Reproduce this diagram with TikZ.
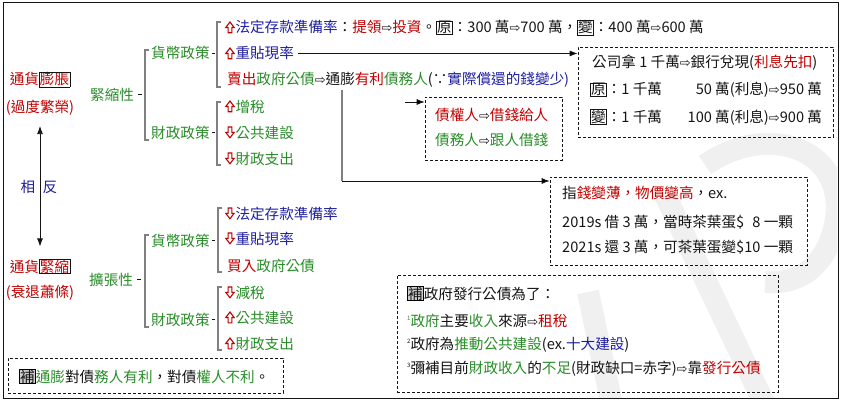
\documentclass[tikz,border=0pt]{standalone}
\usepackage{fontspec}
\setmainfont{Noto Sans CJK TC}
\newfontfamily\symf{DejaVu Sans}
\usetikzlibrary{arrows.meta,fit}
\definecolor{cR}{RGB}{192,0,0}
\definecolor{cG}{RGB}{40,140,40}
\definecolor{cB}{RGB}{30,30,160}
\definecolor{cK}{RGB}{20,20,20}
\definecolor{cW}{RGB}{240,240,240}
\newcommand\cred[1]{\textcolor{cR}{#1}}
\newcommand\cgrn[1]{\textcolor{cG}{#1}}
\newcommand\cblu[1]{\textcolor{cB}{#1}}
\newcommand\aU{\tikz[baseline=0pt,x=1pt,y=1pt]\draw[draw=cR,fill=white,line width=1.1pt,line join=miter] (0.8,5.5)--(5,11)--(9.2,5.5)--(6.9,5.5)--(6.9,0.2)--(3.1,0.2)--(3.1,5.5)--cycle;\hspace{0.8pt}}
\newcommand\aD{\tikz[baseline=0pt,x=1pt,y=1pt]\draw[draw=cR,fill=white,line width=1.1pt,line join=miter] (0.8,5.7)--(5,0.2)--(9.2,5.7)--(6.9,5.7)--(6.9,11)--(3.1,11)--(3.1,5.7)--cycle;\hspace{0.8pt}}
\newcommand\aR{{\symf\fontsize{13}{13}\selectfont\textcolor{cK}{⇨}}}
\newcommand\bxc[1]{{\setlength\fboxsep{0.3pt}\setlength\fboxrule{0.7pt}\fbox{#1}}}
\newcommand\gbx[1]{{\setlength\fboxsep{0.3pt}\setlength\fboxrule{0.7pt}\fcolorbox{black}{gray!40}{#1}}}
\newcommand\supn[1]{{\fontsize{6}{6}\selectfont\raisebox{6pt}{#1}}}
\tikzset{
  txt/.style={anchor=base west, inner sep=0pt, font=\fontsize{14.6}{17}\selectfont, text=cK},
  ctr/.style={anchor=base, inner sep=0pt, font=\fontsize{14.6}{17}\selectfont, text=cK},
  dbox/.style={draw=cK, dash pattern=on 3pt off 2pt, line width=0.7pt, inner sep=0pt},
  brk/.style={draw=gray, line width=1.3pt},
  dsh/.style={draw=cK, line width=0.7pt},
  con/.style={draw=cK, -{Latex[length=8pt,width=6pt]}, line width=0.8pt},
  wm/.style={draw=cW, line width=22pt},
}
\begin{document}
\begin{tikzpicture}[x=1pt,y=-1pt]
\useasboundingbox (0,0) rectangle (842,401);
% faint watermark
\begin{scope}
\clip (4,4) rectangle (837,397);
\draw[wm] (705,165) .. controls (770,120) and (850,150) .. (835,225) .. controls (825,270) and (795,285) .. (765,282);
\draw[wm] (665,195) -- (765,405);
\draw[wm] (588,292) -- (612,405);
\end{scope}
\node[draw=cK, line width=1pt, inner sep=0pt, fit={(3,3)(838,398)}] (frame) {};

% left column
\node[ctr] (L1a) at (40,85) {\cred{通貨}\bxc{\cred{膨脹}}};
\node[ctr] (L1b) at (40,113) {\cred{(過度繁榮)}};
\node[ctr] (L2a) at (40,272) {\cred{通貨}\bxc{\cred{緊縮}}};
\node[ctr] (L2b) at (40,297) {\cred{(衰退蕭條)}};
\node[ctr, text=cB] (opp) at (39,192) {相\hspace{7.5pt}反};
\draw[draw=cK, line width=0.8pt, {Latex[length=8pt,width=6pt]}-{Latex[length=8pt,width=6pt]}]
  ([yshift=-10pt]L1b.south) -- ([yshift=12pt]L2a.north);

% level 1
\node[txt] (k1) at (90,100) {\cgrn{緊縮性}};
\node[txt] (k2) at (89,285) {\cgrn{擴張性}};

% level 2
\node[txt] (m1) at (151,59) {\cgrn{貨幣政策}};
\node[txt] (f1) at (151,138) {\cgrn{財政政策}};
\node[txt] (m2) at (151,246) {\cgrn{貨幣政策}};
\node[txt] (f2) at (151,325) {\cgrn{財政政策}};

% level 3 (top)
\node[txt] (r1) at (225,33) {\aU\cblu{法定存款準備率}：\cred{提領}\aR\cred{投資}。\bxc{原}：300 萬\aR 700 萬，\bxc{變}：400 萬\aR 600 萬};
\node[txt] (r2) at (225,59) {\aU\cblu{重貼現率}};
\node[txt] (r3) at (227,85) {\cred{賣出}\cgrn{政府公債}\aR 通膨\cred{有利}\cgrn{債務人}(∵\cblu{實際償還的錢變少)}};
\node[txt] (r4) at (225,112) {\aU\cgrn{增稅}};
\node[txt] (r5) at (225,138) {\aD\cgrn{公共建設}};
\node[txt] (r6) at (225,164) {\aD\cgrn{財政支出}};
% level 3 (bottom)
\node[txt] (s1) at (225,219) {\aD\cblu{法定存款準備率}};
\node[txt] (s2) at (225,244) {\aD\cblu{重貼現率}};
\node[txt] (s3) at (227,271) {\cred{買入}\cgrn{政府公債}};
\node[txt] (s4) at (225,298) {\aD\cgrn{減稅}};
\node[txt] (s5) at (225,323) {\aU\cgrn{公共建設}};
\node[txt] (s6) at (225,349) {\aU\cgrn{財政支出}};

% brackets
\draw[brk] (149,50) -- (145,50) -- (145,140) -- (149,140);
\draw[brk] (149,235) -- (145,235) -- (145,327) -- (149,327);
\draw[brk] (221,22) -- (217,22) -- (217,87) -- (221,87);
\draw[brk] (221,102) -- (217,102) -- (217,165) -- (221,165);
\draw[brk] (222,208) -- (218,208) -- (218,272) -- (222,272);
\draw[brk] (222,287) -- (218,287) -- (218,350) -- (222,350);
% dashes
\draw[dsh] ([xshift=4pt]k1.east) -- ([xshift=8pt]k1.east);
\draw[dsh] ([xshift=4pt]k2.east) -- ([xshift=8pt]k2.east);
\draw[dsh] ([xshift=2pt]m1.east) -- ([xshift=5pt]m1.east);
\draw[dsh] ([xshift=2pt]f1.east) -- ([xshift=5pt]f1.east);
\draw[dsh] ([xshift=2pt]m2.east) -- ([xshift=5pt]m2.east);
\draw[dsh] ([xshift=2pt]f2.east) -- ([xshift=5pt]f2.east);

% dashed boxes
\node[dbox, fit={(578,47)(833,137)}] (boxA) {};
\node[dbox, fit={(425,97)(562,160)}] (boxB) {};
\node[dbox, fit={(550,177)(807,265)}] (boxC) {};
\node[dbox, fit={(397,275)(778,392)}] (boxD) {};
\node[dbox, fit={(8,358)(283,393)}] (boxE) {};

% box A text
\node[txt] (a1) at (592,68) {公司拿 1 千萬\aR 銀行兌現(\cred{利息先扣})};
\node[txt] (a2) at (590,95) {\bxc{原}：1 千萬\makebox[50pt][r]{50} 萬(利息)\aR 950 萬};
\node[txt] (a3) at (590,122) {\bxc{變}：1 千萬\makebox[50pt][r]{100} 萬(利息)\aR 900 萬};
% box B text
\node[txt] (b1) at (435,121) {\cred{債權人}\aR\cred{借錢給人}};
\node[txt] (b2) at (435,145) {\cgrn{債務人}\aR\cgrn{跟人借錢}};
% box C text
\node[txt] (c1) at (562,198) {指\cred{錢變薄，物價變高}，ex.};
\node[txt] (c2) at (562,227) {2019s 借 3 萬，當時茶葉蛋\$\phantom{1}8 一顆};
\node[txt] (c3) at (562,252) {2021s 還 3 萬，可茶葉蛋變\$10 一顆};
% box D text
\node[txt] (d1) at (407,299) {\gbx{補}政府發行公債為了：};
\node[txt] (d2) at (407,326) {\supn{\cgrn{1}}\cgrn{政府}主要\cgrn{收入}來源\aR\cred{租稅}};
\node[txt] (d3) at (407,349) {\supn{2}政府為\cgrn{推動公共建設}(ex.\cblu{十大建設})};
\node[txt] (d4) at (407,373) {\supn{3}彌補目前\cgrn{財政收入}的\cgrn{不足}(財政缺口=赤字)\aR 靠\cred{發行公債}};
% box E text
\node[txt] (e1) at (19,382) {\gbx{補}\cgrn{通膨}對債\cgrn{務人有利}，對債\cgrn{權人不利}。};

% connectors
\draw[con] ([xshift=4pt]r2.east) -- (r2.east -| boxA.west);
\coordinate (tpTop) at (342,90);
\coordinate (tpBend) at (342,181);
\draw[brk] (tpTop) -- (tpBend);
\draw[con] (tpBend) -- (tpBend -| boxC.west);
\coordinate (bbS) at (405,102);
\draw[con] (bbS) -- (bbS -| boxB.west);
\end{tikzpicture}
\end{document}
